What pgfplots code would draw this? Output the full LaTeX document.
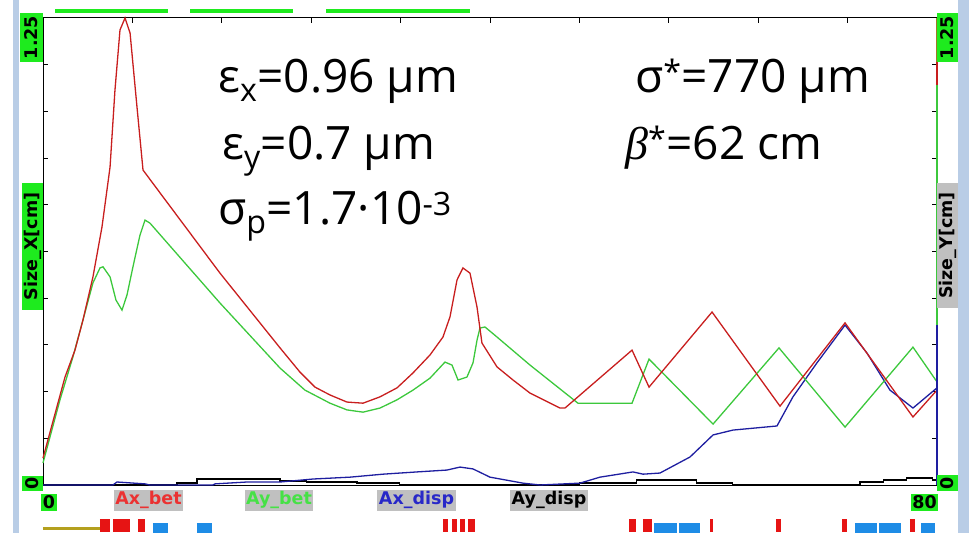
\documentclass[border=0pt]{standalone}
\usepackage{fontspec}
\usepackage{pgfplots}
\pgfplotsset{compat=1.18}
\setmainfont{Open Sans}
\newfontfamily\lbl{DejaVu Sans}
\newfontfamily\bet{Liberation Serif}
\definecolor{cRed}{RGB}{200,30,30}
\definecolor{cGreen}{RGB}{60,200,60}
\definecolor{cBlue}{RGB}{30,30,160}
\definecolor{boxGreen}{RGB}{30,235,30}
\definecolor{boxGray}{RGB}{192,192,192}
\definecolor{stripBlue}{RGB}{185,205,230}
\definecolor{elRed}{RGB}{230,20,20}
\definecolor{elBlue}{RGB}{30,140,230}
\definecolor{elOlive}{RGB}{180,160,30}
\definecolor{axBrown}{RGB}{160,120,40}
\definecolor{labRed}{RGB}{235,50,50}
\definecolor{labGreen}{RGB}{70,225,70}
\definecolor{labBlue}{RGB}{40,40,200}
\begin{document}
\begin{tikzpicture}[x=1pt,y=1pt]
\path[use as bounding box] (0,0) rectangle (969,533);
\fill[stripBlue] (13,0) rectangle (19,533);
\fill[stripBlue] (958,0) rectangle (969,533);
\fill[boxGreen] (55,520) rectangle (168,524);
\fill[boxGreen] (190,520) rectangle (293,524);
\fill[boxGreen] (326,520) rectangle (470,524);
\begin{axis}[
  at={(43pt,48pt)}, anchor=south west,
  width=894pt, height=467pt, scale only axis,
  xmin=0, xmax=80, ymin=0, ymax=1.25,
  xtick={8,16,...,72}, ytick={0.125,0.25,...,1.125},
  xticklabels={}, yticklabels={},
  xtick pos=right, ytick pos=both,
  tick align=inside, major tick length=5pt,
  tick style={black, line width=1pt},
  axis line style={black, line width=1pt},
  clip=false,
]
% Ay_disp (black)
\addplot[black, line width=1.3pt, const plot] coordinates {
(0,0) (11.1,0) (11.99,0.005) (13.78,0.016) (18.8,0.016) (21.2,0.011) (23.6,0.008) (28.1,0.005) (31.9,0) (48,0.005) (53.1,0.013) (58.5,0.005) (61.7,0) (70.7,0) (73.1,0.008) (75.2,0.013) (77.3,0.019) (79.6,0.013) (80,0.013)};
% Ax_disp (blue)
\addplot[cBlue, line width=1.3pt] coordinates {
(0,0) (6.26,0) (6.62,0.008) (9.13,0.003) (9.57,0) (15.21,0) (15.39,0.003) (18.25,0.008) (21.21,0.008) (24.16,0.016) (27.47,0.021) (30.43,0.029) (33.47,0.035) (36.15,0.040) (37.32,0.048) (38.48,0.043) (40.0,0.021) (42.95,0.005) (44.47,0) (48.05,0.005) (49.84,0.021) (52.80,0.035) (53.69,0.029) (55.21,0.032) (57.9,0.075) (59.96,0.134) (61.74,0.147) (65.68,0.158) (67.11,0.236) (69.26,0.327) (71.77,0.428) (73.74,0.353) (75.79,0.254) (77.85,0.206) (80,0.260)};
% Ay_bet (green)
\addplot[cGreen, line width=1.3pt] coordinates {
(0,0.059) (1.52,0.228) (2.68,0.343) (3.58,0.442) (4.47,0.541) (5.10,0.581) (5.37,0.584) (6.00,0.557) (6.53,0.495) (7.07,0.468) (7.52,0.509) (8.05,0.584) (8.68,0.669) (9.13,0.709) (9.57,0.701) (15.84,0.487) (21.21,0.313) (23.44,0.254) (25.68,0.219) (27.20,0.201) (28.64,0.195) (30.16,0.206) (31.68,0.228) (33.11,0.254) (34.63,0.286) (35.97,0.329) (36.60,0.321) (37.14,0.281) (37.94,0.289) (38.48,0.327) (38.84,0.388) (39.10,0.420) (39.55,0.423) (40.63,0.396) (43.58,0.321) (47.87,0.219) (52.71,0.219) (54.23,0.337) (59.96,0.163) (65.86,0.367) (71.77,0.155) (77.85,0.369) (80,0.276)};
% Ax_bet (red)
\addplot[cRed, line width=1.3pt] coordinates {
(0,0.072) (1.97,0.289) (2.86,0.361) (3.58,0.442) (4.47,0.557) (5.28,0.691) (6.00,0.851) (6.44,1.057) (6.89,1.218) (7.34,1.25) (7.79,1.210) (8.41,1.012) (8.95,0.843) (10.47,0.782) (15.84,0.567) (21.21,0.367) (23.00,0.302) (24.34,0.262) (25.68,0.241) (27.20,0.222) (28.64,0.219) (30.16,0.236) (31.68,0.260) (33.11,0.300) (34.63,0.348) (35.79,0.396) (36.42,0.450) (37.05,0.549) (37.58,0.581) (38.21,0.567) (38.84,0.476) (39.28,0.380) (40.63,0.316) (42.06,0.281) (43.58,0.246) (46.26,0.206) (46.71,0.206) (52.71,0.361) (54.23,0.262) (59.87,0.463) (65.95,0.211) (71.77,0.434) (77.85,0.182) (80,0.254)};
\draw[axBrown, line width=1.5pt] (rel axis cs:1,1) -- (rel axis cs:1,0.906);
\draw[cRed, line width=1.5pt] (rel axis cs:1,0.906) -- (rel axis cs:1,0.857);
\draw[cGreen, line width=1.5pt] (rel axis cs:1,0.857) -- (rel axis cs:1,0.343);
\draw[cBlue, line width=1.5pt] (rel axis cs:1,0.343) -- (rel axis cs:1,0);
\end{axis}
\begin{axis}[
  at={(43pt,0pt)}, anchor=south west,
  width=894pt, height=20pt, scale only axis,
  xmin=0, xmax=80, ymin=0, ymax=20, hide axis, clip=false,
]
\addplot[elOlive, line width=3pt] coordinates {(0,5) (5.10,5)};
\addplot[elRed, line width=13pt, unbounded coords=jump] coordinates {
(5.10,7.5) (6.00,7.5) (6.1,nan)
(6.26,7.5) (7.79,7.5) (7.9,nan)
(8.50,7.5) (9.13,7.5) (9.2,nan)
(35.79,7.5) (36.24,7.5) (36.3,nan)
(36.60,7.5) (37.05,7.5) (37.1,nan)
(37.32,7.5) (37.76,7.5) (37.8,nan)
(38.03,7.5) (38.66,7.5) (38.7,nan)
(52.44,7.5) (53.06,7.5) (53.1,nan)
(53.69,7.5) (54.50,7.5) (54.6,nan)
(59.69,7.5) (59.96,7.5) (60.0,nan)
(65.59,7.5) (66.04,7.5) (66.1,nan)
(71.50,7.5) (71.95,7.5) (72.0,nan)
(77.58,7.5) (78.03,7.5)};
\addplot[elBlue, line width=10pt, unbounded coords=jump] coordinates {
(9.84,5) (11.19,5) (11.3,nan)
(13.78,5) (15.12,5) (15.2,nan)
(54.68,5) (56.73,5) (56.8,nan)
(56.91,5) (58.79,5) (58.9,nan)
(72.66,5) (74.63,5) (74.7,nan)
(74.81,5) (76.78,5) (76.9,nan)
(78.57,5) (79.82,5)};
\end{axis}
% axis labels and boxes
\tikzset{lb/.style={font=\lbl\bfseries\fontsize{17.5}{18}\selectfont, inner sep=1.5pt, minimum height=21pt}}
\node[lb, fill=boxGray, text=labRed] at (148.5,33) {Ax\_bet};
\node[lb, fill=boxGray, text=labGreen] at (279,33) {Ay\_bet};
\node[lb, fill=boxGray, text=labBlue] at (416.5,33) {Ax\_disp};
\node[lb, fill=boxGray, text=black] at (549,33) {Ay\_disp};
\node[lb, fill=boxGreen, minimum height=17pt] at (49,31) {0};
\node[lb, fill=boxGreen, minimum height=17pt] at (924.5,31) {80};
\node[lb, fill=boxGreen, rotate=90, minimum width=49pt, minimum height=23pt] at (31.5,495.5) {1.25};
\node[lb, fill=boxGreen, rotate=90, minimum width=127pt, minimum height=21pt] at (32.5,286.5) {Size\_X[cm]};
\node[lb, fill=boxGreen, rotate=90, minimum width=15pt, minimum height=21pt] at (32.5,49.5) {0};
\node[lb, fill=boxGreen, rotate=90, minimum width=49pt, minimum height=21pt] at (947.5,495.5) {1.25};
\node[lb, fill=boxGray, rotate=90, minimum width=125pt, minimum height=21pt] at (947.5,287.5) {Size\_Y[cm]};
\node[lb, fill=boxGreen, rotate=90, minimum width=15pt, minimum height=21pt] at (947.5,50) {0};
% annotations
\tikzset{an/.style={anchor=base west, inner sep=0pt, font=\fontsize{46}{50}\selectfont}}
\node[an] at (218,440) {ε\textsubscript{x}=0.96 μm};
\node[an] at (222,373) {ε\textsubscript{y}=0.7 μm};
\node[an] at (218,308) {σ\textsubscript{p}=1.7·10\textsuperscript{-3}};
\node[an] at (635,440) {σ\textsuperscript{*}=770 μm};
\node[an] at (625,373) {{\bet\itshape β}\textsuperscript{*}=62 cm};
\end{tikzpicture}
\end{document}
